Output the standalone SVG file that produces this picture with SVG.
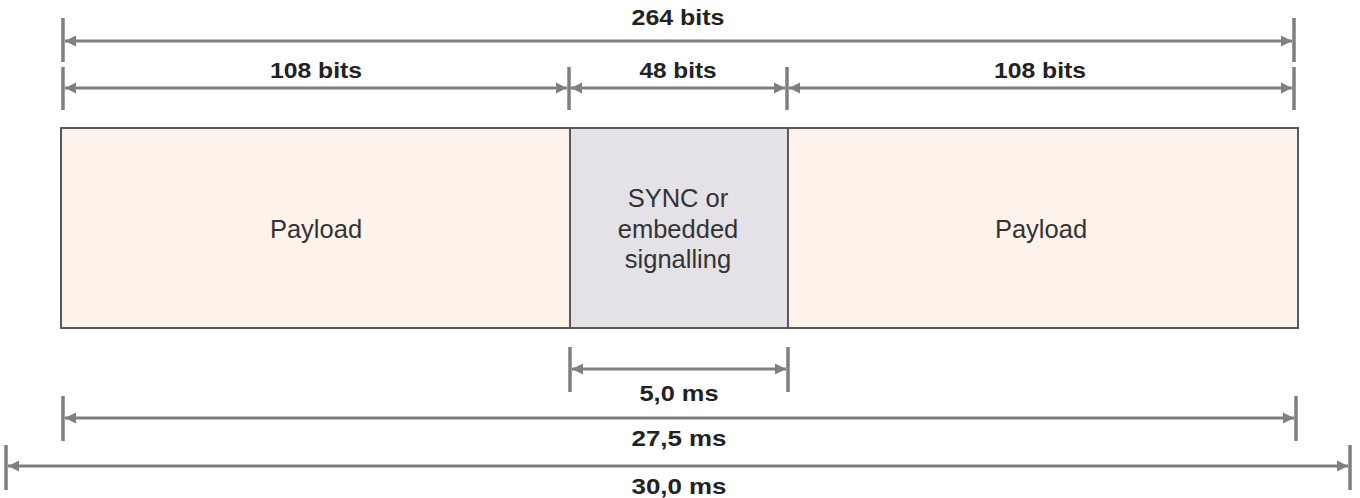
<svg xmlns="http://www.w3.org/2000/svg" width="1360" height="498" viewBox="0 0 1360 498">
  <style>
    .dim { stroke: #7f7f7f; stroke-width: 3; fill: none; }
    .tick { stroke: #7f7f7f; stroke-width: 3.5; fill: none; }
    .lbl { font-family: "Liberation Sans", Arial, sans-serif; font-weight: bold; font-size: 22px; fill: #222; text-anchor: middle; }
    .box { stroke: #595959; stroke-width: 2; }
    .txt { font-family: "Liberation Sans", Arial, sans-serif; font-size: 25.5px; fill: #333; text-anchor: middle; }
  </style>
  <defs>
    <marker id="ah" markerUnits="userSpaceOnUse" markerWidth="12" markerHeight="12" refX="11" refY="6" orient="auto-start-reverse">
      <path d="M0,0.5 L11,6 L0,11.5 z" fill="#7f7f7f"/>
    </marker>
  </defs>

  <g id="frame">
    <g id="payload-left">
      <rect class="box" x="61" y="128" width="509" height="200" fill="#fef3ea"/>
      <text class="txt" x="316" y="238">Payload</text>
    </g>
    <g id="sync">
      <rect class="box" x="570" y="128" width="218" height="200" fill="#e4e2e7"/>
      <text class="txt" x="678" y="207">SYNC or</text>
      <text class="txt" x="678" y="238">embedded</text>
      <text class="txt" x="678" y="268">signalling</text>
    </g>
    <g id="payload-right">
      <rect class="box" x="788" y="128" width="510" height="200" fill="#fef3ea"/>
      <text class="txt" x="1041" y="238">Payload</text>
    </g>
  </g>

  <g id="connectors">
    <!-- 264 bits -->
    <line class="tick" x1="63" y1="18" x2="63" y2="62"/>
    <line class="tick" x1="1294" y1="18" x2="1294" y2="62"/>
    <line class="dim" x1="65" y1="41" x2="1292" y2="41" marker-start="url(#ah)" marker-end="url(#ah)"/>
    <!-- bits row 2 -->
    <line class="tick" x1="63" y1="67" x2="63" y2="110"/>
    <line class="tick" x1="569" y1="67" x2="569" y2="110"/>
    <line class="tick" x1="787" y1="67" x2="787" y2="110"/>
    <line class="tick" x1="1294" y1="67" x2="1294" y2="110"/>
    <line class="dim" x1="65" y1="88" x2="567" y2="88" marker-start="url(#ah)" marker-end="url(#ah)"/>
    <line class="dim" x1="571" y1="88" x2="785" y2="88" marker-start="url(#ah)" marker-end="url(#ah)"/>
    <line class="dim" x1="789" y1="88" x2="1292" y2="88" marker-start="url(#ah)" marker-end="url(#ah)"/>
    <!-- 5,0 ms -->
    <line class="tick" x1="570" y1="347" x2="570" y2="392"/>
    <line class="tick" x1="788" y1="347" x2="788" y2="392"/>
    <line class="dim" x1="572" y1="369" x2="786" y2="369" marker-start="url(#ah)" marker-end="url(#ah)"/>
    <!-- 27,5 ms -->
    <line class="tick" x1="63" y1="396" x2="63" y2="441"/>
    <line class="tick" x1="1296" y1="396" x2="1296" y2="441"/>
    <line class="dim" x1="65" y1="418" x2="1294" y2="418" marker-start="url(#ah)" marker-end="url(#ah)"/>
    <!-- 30,0 ms -->
    <line class="tick" x1="6" y1="445" x2="6" y2="490"/>
    <line class="tick" x1="1350" y1="445" x2="1350" y2="490"/>
    <line class="dim" x1="8" y1="466" x2="1348" y2="466" marker-start="url(#ah)" marker-end="url(#ah)"/>
  </g>

  <g id="labels">
    <text class="lbl" x="678" y="25" textLength="93" lengthAdjust="spacingAndGlyphs">264 bits</text>
    <text class="lbl" x="316" y="78" textLength="92" lengthAdjust="spacingAndGlyphs">108 bits</text>
    <text class="lbl" x="678" y="78" textLength="77" lengthAdjust="spacingAndGlyphs">48 bits</text>
    <text class="lbl" x="1040" y="78" textLength="92" lengthAdjust="spacingAndGlyphs">108 bits</text>
    <text class="lbl" x="679" y="401" textLength="79" lengthAdjust="spacingAndGlyphs">5,0 ms</text>
    <text class="lbl" x="679" y="446" textLength="95" lengthAdjust="spacingAndGlyphs">27,5 ms</text>
    <text class="lbl" x="679" y="494" textLength="95" lengthAdjust="spacingAndGlyphs">30,0 ms</text>
  </g>
</svg>
